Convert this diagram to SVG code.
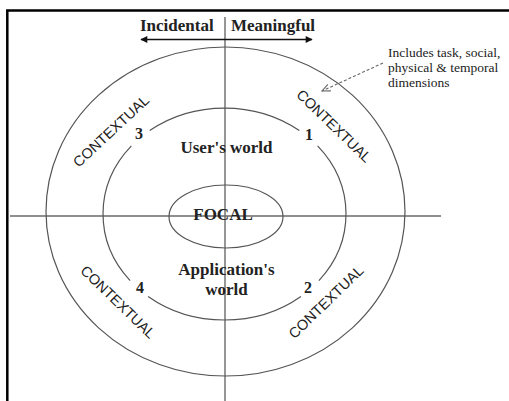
<svg xmlns="http://www.w3.org/2000/svg" width="509" height="401" viewBox="0 0 509 401">
<defs>
<style>
.frame{stroke:#000;stroke-width:2.5;fill:none}
.axis{stroke:#6a6a6a;stroke-width:1.4;fill:none}
.ring{stroke:#555;stroke-width:1.2;fill:none}
.ttl{font-family:"Liberation Serif",serif;font-weight:bold;font-size:17px;fill:#222}
.num{font-family:"Liberation Serif",serif;font-weight:bold;font-size:16px;fill:#222;text-anchor:middle}
.ctx{font-family:"Liberation Sans",Arial,sans-serif;font-size:14.5px;fill:#222;text-anchor:middle;dominant-baseline:central}
.note{font-family:"Liberation Serif",serif;font-size:13.5px;fill:#222}
</style>
<marker id="ah" viewBox="0 0 10 10" refX="9" refY="5" markerWidth="9" markerHeight="7" markerUnits="userSpaceOnUse" orient="auto-start-reverse">
<path d="M0,0 L10,5 L0,10 z" fill="#111"/>
</marker>
<marker id="oh" viewBox="0 0 10 10" refX="9" refY="5" markerWidth="9" markerHeight="9" markerUnits="userSpaceOnUse" orient="auto">
<path d="M0,1 L9,5 L0,9" fill="none" stroke="#666" stroke-width="1.2"/>
</marker>
</defs>
<rect width="509" height="401" fill="#fff"/>
<path class="frame" d="M7.3,401 V10.5 H509"/>
<g id="connectors">
<line class="axis" x1="225" y1="17" x2="225" y2="401"/>
<line class="axis" x1="10" y1="216" x2="441" y2="216"/>
<line x1="141" y1="39.5" x2="312" y2="39.5" stroke="#111" stroke-width="1.5" marker-start="url(#ah)" marker-end="url(#ah)"/>
<line x1="383" y1="63" x2="322" y2="91" stroke="#666" stroke-width="1.1" stroke-dasharray="3,2" marker-end="url(#oh)"/>
</g>
<g id="outer">
<ellipse class="ring" cx="225.5" cy="211.5" rx="179.5" ry="164.5"/>
<text class="ctx" transform="translate(111,131) rotate(-43)">CONTEXTUAL</text>
<text class="ctx" transform="translate(334,126) rotate(44)">CONTEXTUAL</text>
<text class="ctx" transform="translate(118,302) rotate(44)">CONTEXTUAL</text>
<text class="ctx" transform="translate(326,302) rotate(-44)">CONTEXTUAL</text>
</g>
<g id="middle">
<path class="ring" d="M149.7,130.5 A121.5,106 0 0 1 299.3,130.5"/>
<path class="ring" d="M317.6,145.9 A121.5,106 0 0 1 318.9,280.7"/>
<path class="ring" d="M300.9,296.4 A121.5,106 0 0 1 148.1,296.4"/>
<path class="ring" d="M130.1,280.7 A121.5,106 0 0 1 131.4,145.9"/>
<text class="num" x="139" y="139">3</text>
<text class="num" x="309" y="140">1</text>
<text class="num" x="140" y="293">4</text>
<text class="num" x="308" y="293">2</text>
<text class="ttl" x="226.5" y="153" text-anchor="middle">User's world</text>
<text class="ttl" x="226.5" y="275" text-anchor="middle">Application's</text>
<text class="ttl" x="226.5" y="295" text-anchor="middle">world</text>
</g>
<g id="focal">
<ellipse class="ring" cx="226" cy="216.5" rx="57" ry="31.5"/>
<text class="ttl" x="223" y="220" text-anchor="middle">FOCAL</text>
</g>
<g id="header">
<text class="ttl" x="140" y="31">Incidental</text>
<text class="ttl" x="231" y="31">Meaningful</text>
</g>
<g id="note">
<text class="note" x="388" y="57">Includes task, social,</text>
<text class="note" x="388" y="72">physical &amp; temporal</text>
<text class="note" x="388" y="87">dimensions</text>
</g>
</svg>
